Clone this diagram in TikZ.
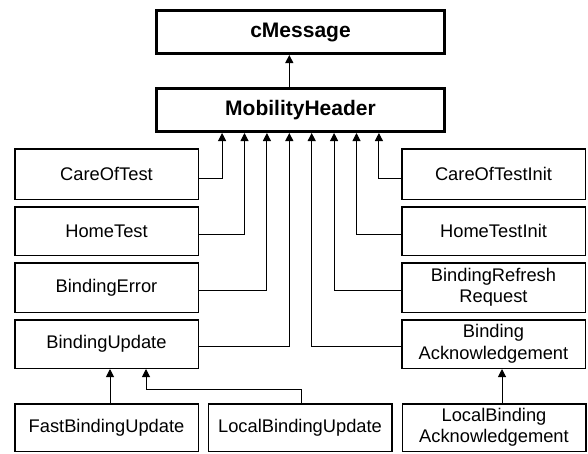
\documentclass[tikz,border=0pt]{standalone}
\usepackage{fontspec}
\setmainfont{Liberation Sans}
\usetikzlibrary{arrows.meta,calc}
\begin{document}
\begin{tikzpicture}[x=1pt,y=-1pt,
 box/.style={draw,line width=1.5pt,minimum width=183.5pt,inner sep=0pt,align=center,font=\fontsize{18.3}{21.5}\selectfont},
 topbox/.style={draw,line width=3pt,minimum width=288pt,minimum height=43pt,inner sep=0pt,font=\fontsize{21}{24}\selectfont\bfseries},
 conn/.style={line width=1pt,-{Triangle[length=8pt,width=8pt]}}]
\useasboundingbox (0,0) rectangle (588,453);
\node[topbox] (cm) at (300.5,32) {cMessage};
\node[topbox] (mh) at (300.5,110) {MobilityHeader};
% left column
\node[box,minimum height=50.5pt] (cot) at (106.5,174) {CareOfTest};
\node[box,minimum height=48.5pt] (ht) at (106.5,231) {HomeTest};
\node[box,minimum height=49.5pt] (be) at (106.5,287.5) {BindingError};
\node[box,minimum height=48.5pt] (bu) at (106.5,344) {BindingUpdate};
% right column
\node[box,minimum height=50.5pt] (coti) at (493.5,174) {CareOfTestInit};
\node[box,minimum height=48.5pt] (hti) at (493.5,231) {HomeTestInit};
\node[box,minimum height=49.5pt] (brr) at (493.5,287.5) {BindingRefresh\\Request};
\node[box,minimum height=48.5pt] (ba) at (493.5,344) {Binding\\Acknowledgement};
% bottom row
\node[box,minimum height=47.5pt] (fbu) at (106.5,427.5) {FastBindingUpdate};
\node[box,minimum height=47.5pt] (lbu) at (300,427.5) {LocalBindingUpdate};
\node[box,minimum height=47.5pt] (lba) at (494,427.5) {LocalBinding\\Acknowledgement};
% connectors
\draw[conn] ($(mh.north)+(-11.2,0)$) -- ($(cm.south)+(-11.2,0)$);
\draw[conn] ([yshift=-4pt]cot.east) -| ($(mh.south)+(-78.4,0)$);
\draw[conn] ([yshift=-3pt]ht.east) -| ($(mh.south)+(-56,0)$);
\draw[conn] ([yshift=-2.5pt]be.east) -| ($(mh.south)+(-33.6,0)$);
\draw[conn] ([yshift=-2pt]bu.east) -| ($(mh.south)+(-11.2,0)$);
\draw[conn] ([yshift=-2pt]ba.west) -| ($(mh.south)+(11.2,0)$);
\draw[conn] ([yshift=-2.5pt]brr.west) -| ($(mh.south)+(33.6,0)$);
\draw[conn] ([yshift=-3pt]hti.west) -| ($(mh.south)+(56,0)$);
\draw[conn] ([yshift=-4pt]coti.west) -| ($(mh.south)+(78.4,0)$);
\draw[conn] ($(fbu.north)+(3.5,0)$) -- ($(bu.south)+(3.5,0)$);
\draw[conn] ($(lbu.north)+(1,0)$) -- ++(0,-14) -| ($(bu.south)+(39.5,0)$);
\draw[conn] ($(lba.north)+(8,0)$) -- ($(ba.south)+(8.5,0)$);
\end{tikzpicture}
\end{document}
